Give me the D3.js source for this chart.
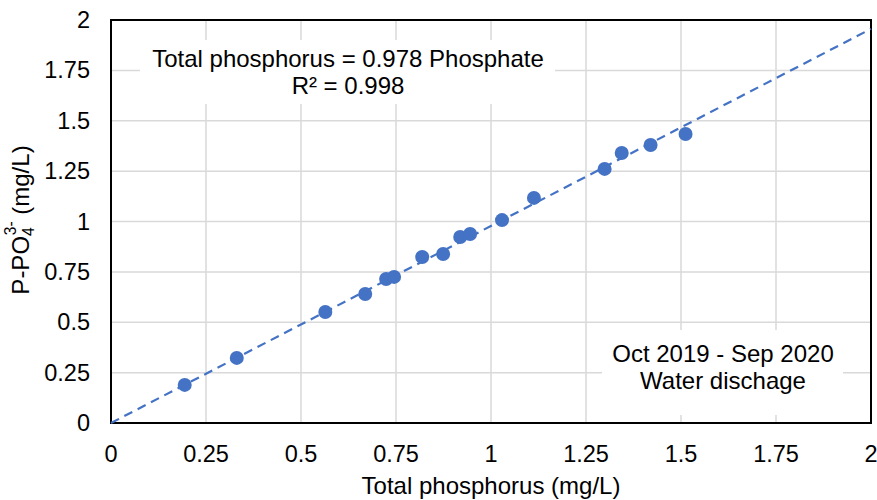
<!DOCTYPE html>
<html><head><meta charset="utf-8">
<script src="https://cdn.jsdelivr.net/npm/d3@7"></script>
<style>body{margin:0;background:#fff;}text{font-family:"Liberation Sans",Arial,sans-serif;fill:#000;}</style>
</head><body>
<svg id="c" width="877" height="500"></svg>
<script>
const totalP = [0.194,0.331,0.564,0.669,0.724,0.745,0.819,0.874,0.919,0.945,1.029,1.113,1.299,1.344,1.420,1.512];
const phosphate = [0.189,0.323,0.551,0.640,0.715,0.725,0.824,0.839,0.923,0.938,1.007,1.117,1.261,1.340,1.380,1.434];
const slope = 0.978;
const ticks = [0,0.25,0.5,0.75,1,1.25,1.5,1.75,2];
const eqText = ["Total phosphorus = 0.978 Phosphate","R² = 0.998"];
const noteText = ["Oct 2019 - Sep 2020","Water dischage"];

const svg = d3.select("#c");
const L=111,R=871,T=20,B=423;
const x = d3.scaleLinear().domain([0,2]).range([L,R]);
const y = d3.scaleLinear().domain([0,2]).range([B,T]);
const fs = 24, fsT = 23.5;

// gridlines
const g = svg.append("g");
g.selectAll(".vg").data(ticks.slice(1,-1)).join("line")
 .attr("x1",d=>x(d)).attr("x2",d=>x(d)).attr("y1",T).attr("y2",B)
 .attr("stroke","#d9d9d9").attr("stroke-width",1.5);
g.selectAll(".hg").data(ticks.slice(1,-1)).join("line")
 .attr("y1",d=>y(d)).attr("y2",d=>y(d)).attr("x1",L).attr("x2",R)
 .attr("stroke","#d9d9d9").attr("stroke-width",1.5);

// label backgrounds
svg.append("rect").attr("x",140).attr("y",40).attr("width",415).attr("height",64).attr("fill","#fff");
svg.append("rect").attr("x",602).attr("y",330).attr("width",241).attr("height",85).attr("fill","#fff");

// frame
svg.append("rect").attr("x",L).attr("y",T).attr("width",R-L).attr("height",B-T)
 .attr("fill","none").attr("stroke","#000").attr("stroke-width",2);

// trendline
svg.append("line").attr("x1",x(0)).attr("y1",y(0)).attr("x2",x(2)).attr("y2",y(2*slope))
 .attr("stroke","#4472C4").attr("stroke-width",2.2).attr("stroke-dasharray","9,6");

// points
svg.selectAll(".pt").data(totalP.map((d,i)=>[d,phosphate[i]])).join("circle")
 .attr("cx",d=>x(d[0])).attr("cy",d=>y(d[1])).attr("r",7).attr("fill","#4472C4");

// ticks
svg.selectAll(".xt").data(ticks).join("text")
 .attr("x",d=>x(d)).attr("y",462).attr("text-anchor","middle").attr("font-size",fsT)
 .text(d=>d3.format("~g")(d));
svg.selectAll(".yt").data(ticks).join("text")
 .attr("x",90).attr("y",d=>y(d)+8).attr("text-anchor","end").attr("font-size",fsT)
 .text(d=>d3.format("~g")(d));

// axis titles
svg.append("text").attr("x",(L+R)/2).attr("y",494).attr("text-anchor","middle").attr("font-size",fs)
 .text("Total phosphorus (mg/L)");
const yt = svg.append("text").attr("transform",`translate(29,220) rotate(-90)`)
 .attr("text-anchor","middle").attr("font-size",fs);
yt.append("tspan").text("P-PO");
yt.append("tspan").attr("font-size",fs*0.65).attr("dy",5).text("4");
yt.append("tspan").attr("font-size",fs*0.65).attr("dx",-8).attr("dy",-18).text("3-");
yt.append("tspan").attr("dy",13).text("  (mg/L)");

// annotations
svg.selectAll(".eq").data(eqText).join("text")
 .attr("x",348).attr("y",(d,i)=>67+i*27).attr("text-anchor","middle").attr("font-size",fs).text(d=>d);
svg.selectAll(".nt").data(noteText).join("text")
 .attr("x",723).attr("y",(d,i)=>362+i*27).attr("text-anchor","middle").attr("font-size",fs).text(d=>d);
</script>
</body></html>
